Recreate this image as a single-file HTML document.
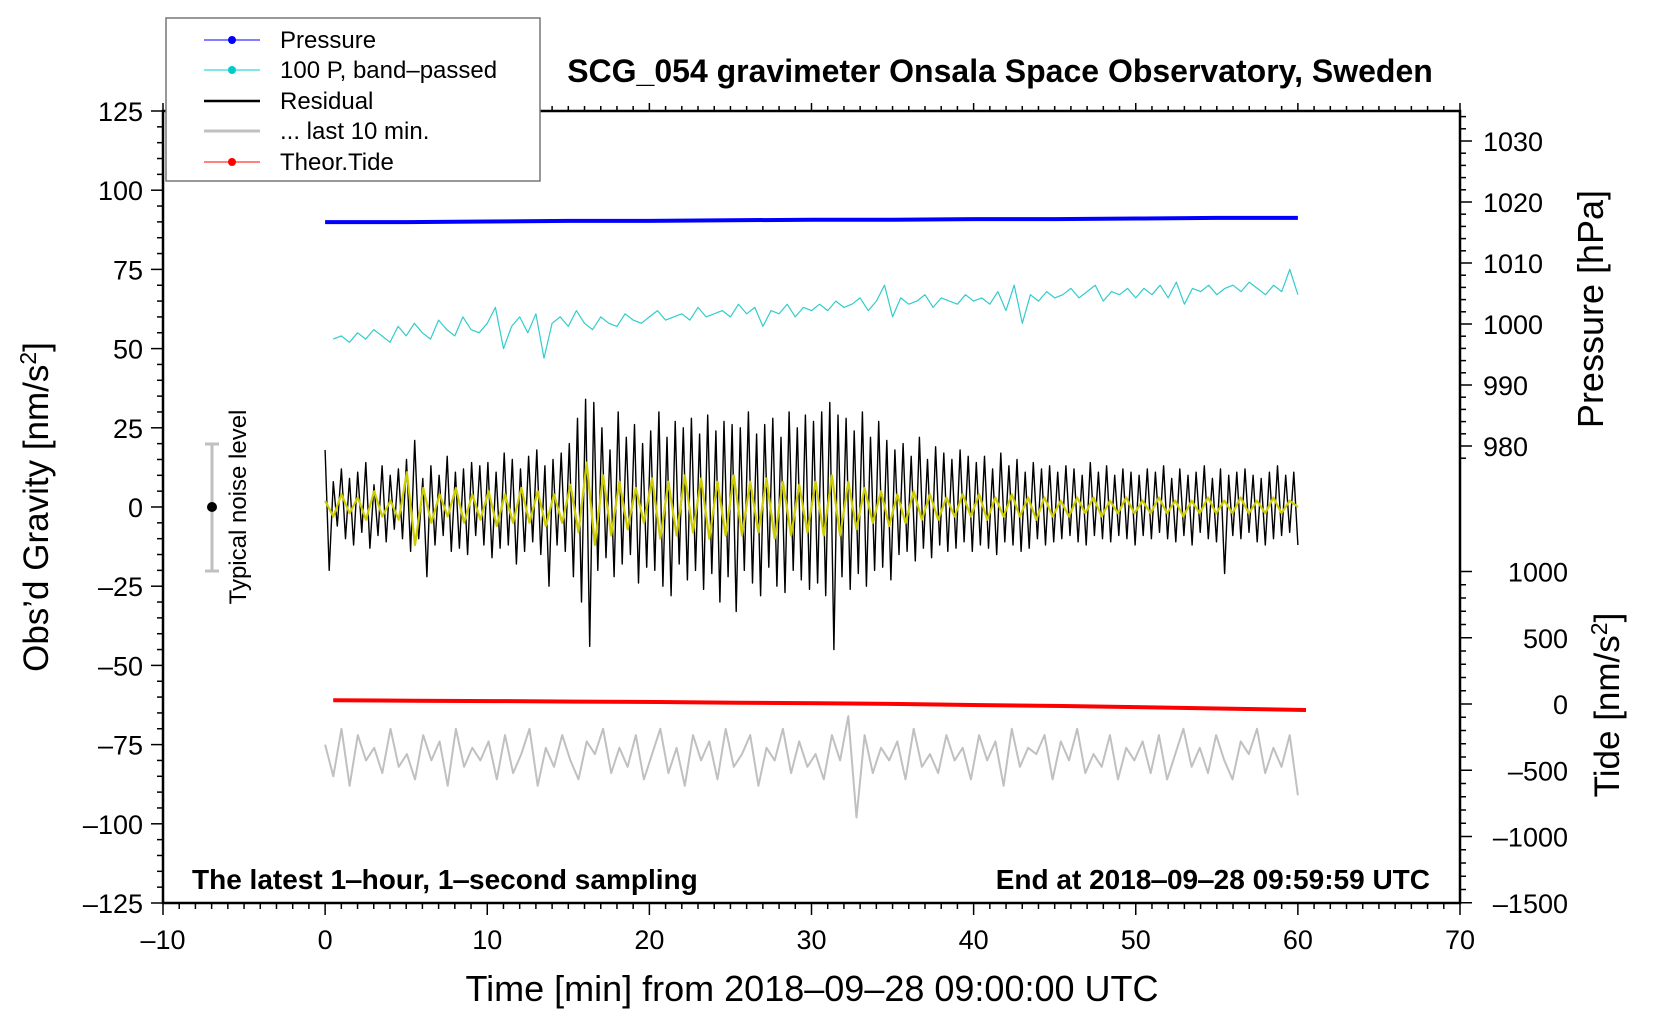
<!DOCTYPE html>
<html><head><meta charset="utf-8">
<style>
html,body{margin:0;padding:0;background:#fff;}
svg{display:block;font-family:"Liberation Sans",Arial,sans-serif;}
</style></head>
<body>
<svg id="chart" width="1660" height="1020" viewBox="0 0 1660 1020" xmlns="http://www.w3.org/2000/svg">
<g id="marks"></g>
<g id="axes"></g>
<text x="1000" y="82" font-size="32" font-weight="bold" text-anchor="middle">SCG_054 gravimeter Onsala Space Observatory, Sweden</text>
<text x="192" y="889" font-size="28" font-weight="bold">The latest 1‒hour, 1‒second sampling</text>
<text x="1430" y="889" font-size="28" font-weight="bold" text-anchor="end">End at 2018‒09‒28 09:59:59 UTC</text>
<text x="812" y="1001" font-size="36" text-anchor="middle">Time [min] from 2018‒09‒28 09:00:00 UTC</text>
<text transform="translate(48,507) rotate(-90)" font-size="35" text-anchor="middle">Obs’d Gravity [nm/s<tspan font-size="23" dy="-12">2</tspan><tspan dy="12">]</tspan></text>
<text transform="translate(1603,309) rotate(-90)" font-size="36" text-anchor="middle">Pressure [hPa]</text>
<text transform="translate(1619,705) rotate(-90)" font-size="35" text-anchor="middle">Tide [nm/s<tspan font-size="23" dy="-12">2</tspan><tspan dy="12">]</tspan></text>
<g>
<line x1="212" y1="444" x2="212" y2="571" stroke="#c0c0c0" stroke-width="3"/>
<line x1="205" y1="444" x2="219" y2="444" stroke="#c0c0c0" stroke-width="3"/>
<line x1="205" y1="571" x2="219" y2="571" stroke="#c0c0c0" stroke-width="3"/>
<circle cx="212" cy="507" r="5" fill="#000"/>
<text transform="translate(246,507) rotate(-90)" font-size="24" text-anchor="middle">Typical noise level</text>
</g>
<g>
<rect x="166" y="18" width="374" height="163" fill="#fff" stroke="#777" stroke-width="1.5"/>
<g><line x1="204" y1="40" x2="260" y2="40" stroke="#0000ff" stroke-width="1"/><circle cx="232" cy="40" r="4" fill="#0000ff"/><text x="280" y="48" font-size="24">Pressure</text></g>
<g><line x1="204" y1="70" x2="260" y2="70" stroke="#00cccc" stroke-width="1"/><circle cx="232" cy="70" r="4" fill="#00cccc"/><text x="280" y="78" font-size="24">100 P, band‒passed</text></g>
<g><line x1="204" y1="101" x2="260" y2="101" stroke="#000" stroke-width="2.5"/><text x="280" y="109" font-size="24">Residual</text></g>
<g><line x1="204" y1="131" x2="260" y2="131" stroke="#c0c0c0" stroke-width="3"/><text x="280" y="139" font-size="24">... last 10 min.</text></g>
<g><line x1="204" y1="162" x2="260" y2="162" stroke="#ff0000" stroke-width="1"/><circle cx="232" cy="162" r="4" fill="#ff0000"/><text x="280" y="170" font-size="24">Theor.Tide</text></g>
</g>
</svg>
<script>
const residual = [18,-20,8,-6,12,-10,9,-12,11,-8,14,-13,7,-9,13,-11,10,-7,12,-10,
15,-14,21,-10,9,-22,13,-12,10,-9,16,-14,11,-13,12,-15,14,-9,13,-12,
14,-16,11,-13,17,-12,15,-18,12,-14,16,-11,18,-15,13,-25,15,-12,17,-14,
20,-22,28,-30,34,-44,33,-20,25,-16,18,-22,30,-18,22,-15,26,-24,20,-19,
24,-20,30,-25,22,-28,27,-18,25,-23,28,-20,23,-26,29,-21,24,-30,27,-22,
26,-33,25,-20,30,-24,23,-28,26,-19,28,-25,22,-27,30,-20,25,-23,29,-26,
27,-24,30,-28,33,-45,29,-22,28,-26,24,-21,30,-25,22,-20,27,-19,21,-23,
18,-15,20,-14,16,-17,22,-13,15,-16,19,-12,17,-14,15,-13,18,-11,16,-14,
14,-12,16,-13,12,-15,17,-11,13,-12,15,-14,11,-13,14,-10,12,-12,13,-11,
11,-10,13,-9,12,-11,10,-12,14,-9,11,-10,13,-11,10,-9,12,-10,11,-12,
10,-9,12,-10,11,-8,13,-10,9,-11,12,-9,10,-12,11,-8,13,-10,9,-11,
12,-21,10,-9,11,-10,12,-8,10,-11,9,-12,11,-10,13,-9,10,-8,11,-12];
const filtered = [2,-3,4,-2,3,-4,5,-3,2,-4,11,-12,6,-5,4,-3,6,-5,4,-4,
5,-6,4,-5,6,-5,5,-6,4,-5,7,-8,14,-12,10,-9,8,-7,6,-5,
9,-10,8,-9,10,-8,9,-10,8,-9,10,-9,8,-8,9,-10,8,-9,7,-8,
8,-9,10,-9,8,-7,6,-5,5,-6,4,-5,5,-4,4,-4,3,-3,4,-3,
4,-4,3,-3,4,-3,3,-4,3,-3,2,-3,3,-2,3,-3,2,-2,3,-2,
2,-2,3,-2,2,-3,2,-2,3,-2,2,-2,3,-2,2,-2,3,-2,2,0];
const bandPassed = [53,54,52,55,53,56,54,52,57,54,58,55,53,59,56,54,60,56,55,58,
63,50,57,60,55,61,47,58,60,57,62,58,56,60,58,57,61,59,58,60,
62,59,60,61,59,63,60,61,62,60,64,61,63,57,62,61,64,60,63,62,
64,62,65,63,64,66,62,65,70,60,66,64,65,67,63,66,65,64,67,65,
66,64,68,62,70,58,67,65,68,66,67,69,66,68,70,65,68,67,69,66,
69,67,70,66,71,64,69,68,70,67,69,70,68,71,69,67,70,68,75,67];
const last10 = [-75,-85,-70,-88,-72,-80,-76,-84,-70,-82,-78,-86,-72,-80,-74,-88,-70,-82,-76,-80,
-74,-86,-72,-84,-78,-70,-88,-76,-82,-72,-80,-86,-74,-78,-70,-84,-76,-82,-72,-86,
-78,-70,-84,-76,-88,-72,-80,-74,-86,-70,-82,-78,-72,-88,-76,-80,-70,-84,-74,-82,
-78,-86,-72,-80,-66,-98,-72,-84,-76,-80,-74,-86,-70,-82,-78,-84,-72,-80,-76,-86,
-72,-80,-74,-88,-70,-82,-76,-78,-72,-86,-74,-80,-70,-84,-78,-82,-72,-86,-76,-80,
-74,-84,-72,-86,-78,-70,-82,-76,-84,-72,-80,-86,-74,-78,-70,-84,-76,-82,-72,-91];
const pressure = [1016.7,1016.7,1016.8,1016.9,1016.9,1017.0,1017.1,1017.1,1017.2,1017.2,1017.3,1017.4,1017.4];
const tide = [28,25,22,18,15,10,5,0,-8,-15,-25,-35,-45];
const xTicks = [-10,0,10,20,30,40,50,60,70];
const gTicks = [-125,-100,-75,-50,-25,0,25,50,75,100,125];
const pTicks = [980,990,1000,1010,1020,1030];
const tTicks = [-1500,-1000,-500,0,500,1000];

const L=163,R=1460,T=111,B=903;
function xs(t){return L+(t+10)*(R-L)/80;}
function yg(v){return T+(125-v)*(B-T)/250;}
function yp(p){return 141+(1030-p)*6.1;}
function yt(v){return 704-v*0.1325;}
const NS='http://www.w3.org/2000/svg';
const marks=document.getElementById('marks'), axes=document.getElementById('axes');
function mk(tag,attrs,parent){const e=document.createElementNS(NS,tag);for(const k in attrs)e.setAttribute(k,attrs[k]);parent.appendChild(e);return e;}
function poly(vals,t0,t1,yf,color,w,name){
  const n=vals.length;
  const pts=vals.map((v,i)=>xs(t0+(t1-t0)*i/(n-1)).toFixed(1)+','+yf(v).toFixed(1)).join(' ');
  const p=mk('polyline',{points:pts,fill:'none',stroke:color,'stroke-width':w,'stroke-linejoin':'round'},marks);
  
  
}
poly(last10,0,60,yg,'#c0c0c0',2,'last-10-min-line');
poly(pressure,0,60,yp,'#0000ff',4,'pressure-line');
poly(bandPassed,0.5,60,yg,'#33cccc',1.2,'band-passed-pressure-line');
poly(residual,0,60,yg,'#000',1.4,'residual-line');
poly(filtered,0,60,yg,'#cccc00',2.2,'filtered-residual-line');
poly(tide,0.5,60.5,yt,'#ff0000',4,'tide-line');

const fr=mk('rect',{x:L,y:T,width:R-L,height:B-T,fill:'none',stroke:'#000','stroke-width':2.5},axes);


for(let t=-10;t<=70;t++){
  const major=t%10===0, len=major?12:6;
  mk('line',{x1:xs(t),y1:B,x2:xs(t),y2:B+len,stroke:'#000','stroke-width':1.5},axes);
  mk('line',{x1:xs(t),y1:T,x2:xs(t),y2:T-(major?8:5),stroke:'#000','stroke-width':1.5},axes);
}
xTicks.forEach(t=>{
  const tx=mk('text',{x:xs(t),y:B+46,'font-size':27,'text-anchor':'middle'},axes);
  tx.textContent=String(t).replace('-','‒');
  
  
});
for(let v=-125;v<=125;v+=5){
  const major=v%25===0;
  mk('line',{x1:L,y1:yg(v),x2:L-(major?12:6),y2:yg(v),stroke:'#000','stroke-width':1.5},axes);
}
gTicks.forEach(v=>{
  const tx=mk('text',{x:L-20,y:yg(v)+10,'font-size':27,'text-anchor':'end'},axes);
  tx.textContent=String(v).replace('-','‒');
  
  
});
for(let p=978;p<=1035;p+=2){
  const major=p%10===0;
  mk('line',{x1:R,y1:yp(p),x2:R+(major?12:6),y2:yp(p),stroke:'#000','stroke-width':1.5},axes);
}
pTicks.forEach(p=>{
  const tx=mk('text',{x:R+23,y:yp(p)+10,'font-size':27},axes);
  tx.textContent=String(p);
  
  
});
for(let v=-1500;v<=1000;v+=100){
  const major=v%500===0;
  mk('line',{x1:R,y1:yt(v),x2:R+(major?12:6),y2:yt(v),stroke:'#000','stroke-width':1.5},axes);
}
tTicks.forEach(v=>{
  const tx=mk('text',{x:1568,y:yt(v)+10,'font-size':27,'text-anchor':'end'},axes);
  tx.textContent=String(v).replace('-','‒');
  
  
});
</script>
</body></html>
